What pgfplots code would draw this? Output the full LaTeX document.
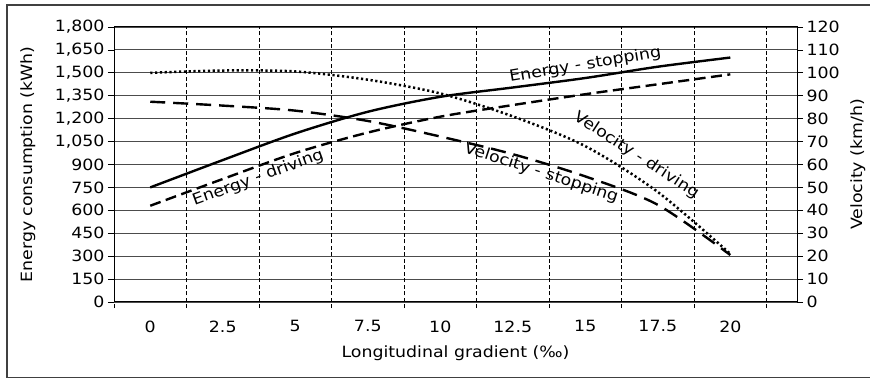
\documentclass[border=0pt]{standalone}
\usepackage{fontspec}
\setmainfont{DejaVu Sans}[FakeStretch=1.12]
\usepackage{pgfplots}
\pgfplotsset{compat=1.18}
\newcommand{\fs}{\fontsize{15.5bp}{18bp}\selectfont}
\begin{document}
\begin{tikzpicture}[font=\fs]
\useasboundingbox (0bp,0bp) rectangle (870bp,379bp);
\draw[line width=1.3bp, color=black!75] (7bp,1.3bp) rectangle (885bp,374bp);
\begin{axis}[
  at={(114bp,77bp)}, anchor=south west, scale only axis,
  width=683bp, height=275bp,
  xmin=-1.25, xmax=22.3, ymin=0, ymax=1800,
  axis line style={line width=1bp, black},
  ytick={0,150,...,1800}, ytick pos=left,
  tick align=outside, major tick length=6bp,
  ytick style={line width=0.8bp, black},
  ymajorgrids, major grid style={color=black!70, line width=0.9bp},
  xtick={0,2.5,...,20}, xtick pos=bottom,
  xtick style={draw=none},
  xticklabel style={yshift=-9bp},
  extra x ticks={-1.25,1.25,3.75,6.25,8.75,11.25,13.75,16.25,18.75,21.25},
  extra x tick labels={},
  extra x tick style={xmajorgrids=true, ymajorgrids=false,
     major grid style={color=black, line width=0.7bp, dash pattern=on 4bp off 2.5bp},
     xtick style={draw=black, line width=0.7bp, dash pattern=on 4bp off 2.5bp}},
  /pgf/number format/.cd, 1000 sep={,}, assume math mode=true, /pgfplots/.cd,
  every tick label/.append style={font=\fs},
  xlabel={Longitudinal gradient (‰)},
  xlabel style={at={(axis description cs:0.5,-0.185)}, anchor=center, font=\fs},
  ylabel={Energy consumption (kWh)},
  ylabel style={at={(axis description cs:-0.126,0.5)}, anchor=center, font=\fs},
  clip=false,
]
\addplot[black, line width=2.4bp, smooth] coordinates {
 (0,750) (2.5,929) (5,1103) (7.5,1245) (10,1343) (12.5,1404) (15,1466) (17.5,1540) (20,1600)};
\addplot[black, line width=2.4bp, smooth, dash pattern=on 11bp off 5.5bp] coordinates {
 (0,630) (2.5,805) (5,975) (7.5,1109) (10,1213) (12.5,1289) (15,1360) (17.5,1425) (20,1490)};
\node[rotate=9.5] at (axis cs:15.0,1551) {Energy - stopping};
\node[rotate=20] at (axis cs:3.72,812) {Energy - driving};
\node[rotate=-33] at (axis cs:16.76,960) {Velocity - driving};
\node[rotate=-18] at (axis cs:13.48,845) {Velocity - stopping};
\end{axis}
\begin{axis}[
  at={(114bp,77bp)}, anchor=south west, scale only axis,
  width=683bp, height=275bp,
  xmin=-1.25, xmax=22.3, ymin=0, ymax=120,
  axis x line=none, axis y line*=right,
  axis line style={line width=1bp, black},
  ytick={0,10,...,120},
  tick align=outside, major tick length=6bp,
  ytick style={line width=0.8bp, black},
  every tick label/.append style={font=\fs},
  /pgf/number format/.cd, assume math mode=true, /pgfplots/.cd,
  ylabel={Velocity (km/h)},
  ylabel style={at={(axis description cs:1.0893,0.5)}, anchor=center, font=\fs},
  clip=false,
]
\addplot[black, line width=2.5bp, smooth, dash pattern=on 2.2bp off 2.6bp] coordinates {
 (0,100) (2.5,101) (5,100.6) (7.5,97) (10,91) (12.5,81) (15,68) (17.5,48) (20,21)};
\addplot[black, line width=2.4bp, smooth, dash pattern=on 15bp off 8bp] coordinates {
 (0,87.4) (2.5,85.7) (5,83.5) (7.5,79) (10,72.2) (12.5,64.5) (15,54.8) (17.5,42.4) (20,20.5)};
\end{axis}
\end{tikzpicture}
\end{document}
